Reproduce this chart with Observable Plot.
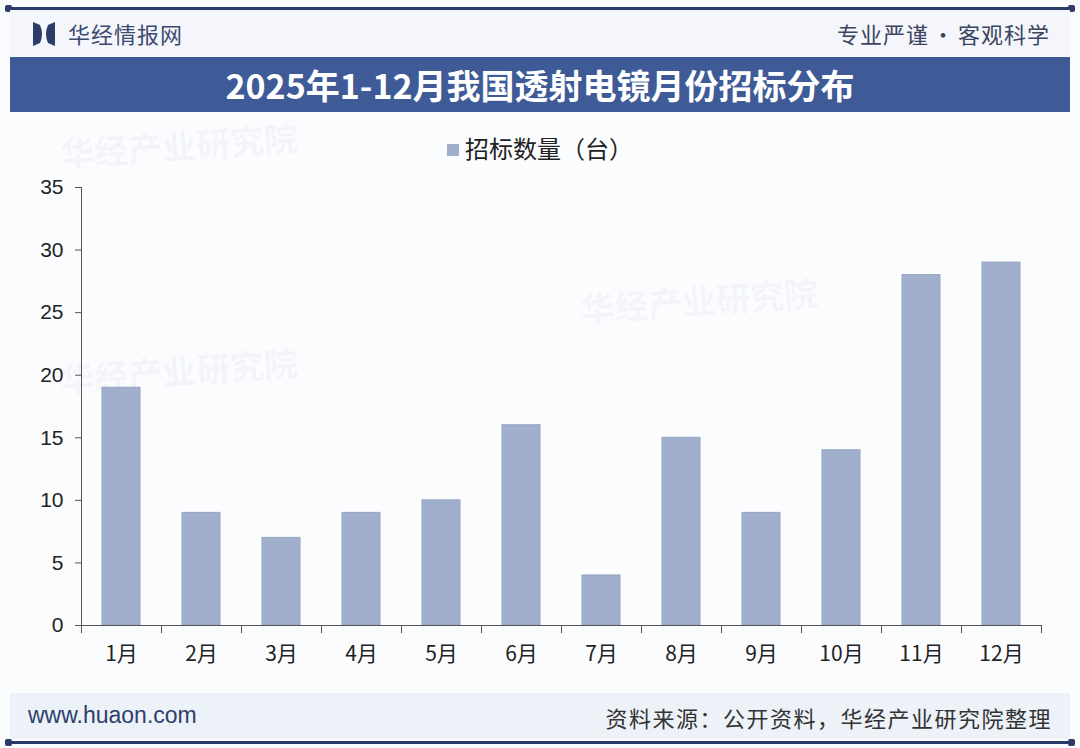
<!DOCTYPE html>
<html><head><meta charset="utf-8">
<script src="https://cdn.jsdelivr.net/npm/d3@7"></script>
<script src="https://cdn.jsdelivr.net/npm/@observablehq/plot@0.6"></script>
<style>
html,body{margin:0;padding:0;}
body{width:1080px;height:748px;position:relative;background:#fbfcfe;font-family:"Noto Sans CJK SC","Noto Sans",sans-serif;overflow:hidden;}
.line{position:absolute;left:8px;right:8px;height:3px;background:#2c3c68;}
.line:before,.line:after{content:"";position:absolute;top:-2px;width:7px;height:7px;border-radius:2px;background:#2c3c68;}
.line:before{left:-3px}.line:after{right:-3px}
#hdr{position:absolute;left:10px;right:10px;top:10px;height:47px;background:#f4f6fb;}
#brand{position:absolute;left:68px;top:17px;font-size:22px;color:#3b4a70;letter-spacing:1px;}
#motto{position:absolute;right:30px;top:17px;font-size:22px;color:#3b4460;letter-spacing:1px;}
#logo{position:absolute;left:33px;top:22px;}
#title{position:absolute;left:10px;right:10px;top:57px;height:55px;background:#3e5b98;color:#fff;text-align:center;font-weight:bold;font-size:34px;line-height:55px;font-family:"Noto Sans CJK SC",sans-serif;}
#legend{position:absolute;left:0;width:1080px;top:130px;text-align:center;font-size:24px;color:#222;}
#legend span.sw{display:inline-block;width:12px;height:12px;background:#9fafcb;margin-right:6px;vertical-align:2px;}
#chart{position:absolute;left:0;top:170px;}
#ftr{position:absolute;left:10px;right:10px;top:693px;height:46px;background:#edf1f8;}
#site{position:absolute;left:28px;top:702px;font-size:23px;color:#2d3f6b;font-family:"Liberation Sans",Arial,sans-serif;}
#src{position:absolute;right:28px;top:701px;font-size:22px;color:#333;letter-spacing:1.5px;}
.wm{position:absolute;color:rgba(160,175,205,0.09);font-size:34px;font-weight:bold;transform:rotate(-4deg);}
</style></head>
<body>
<div class="line" style="top:7px"></div>
<div id="hdr"></div>
<svg id="logo" width="22" height="24" viewBox="0 0 22 24"><path d="M0 0 L7 3 L7 21 L0 24 Z" fill="#2c3c68"/><path d="M22 0 L15 3 L15 21 L22 24 Z" fill="#2c3c68"/><path d="M7 3 Q11 12 7 21 Z" fill="#2c3c68"/><path d="M15 3 Q11 12 15 21 Z" fill="#2c3c68"/></svg>
<div id="brand">华经情报网</div>
<div id="motto">专业严谨<span style="margin:0 3px">•</span>客观科学</div>
<div id="title">2025年1-12月我国透射电镜月份招标分布</div>
<div class="wm" style="left:60px;top:120px">华经产业研究院</div>
<div class="wm" style="left:580px;top:275px">华经产业研究院</div>
<div class="wm" style="left:60px;top:345px">华经产业研究院</div>
<div id="legend"><span class="sw"></span>招标数量（台）</div>
<div id="chart"></div>
<div id="ftr"></div>
<div id="site">www.huaon.com</div>
<div id="src">资料来源：公开资料，华经产业研究院整理</div>
<div class="line" style="top:741px"></div>
<script>
const months = ["1月","2月","3月","4月","5月","6月","7月","8月","9月","10月","11月","12月"];
const counts = [19, 9, 7, 9, 10, 16, 4, 15, 9, 14, 28, 29];
const yTicks = [0, 5, 10, 15, 20, 25, 30, 35];
const data = months.map((m, i) => ({month: m, value: counts[i]}));

const W = 1080, H = 510;
const mL = 81, mR = 39, mT = 17, mB = 55;
const band = (W - mL - mR) / months.length;

const chart = Plot.plot({
  width: W, height: H,
  marginLeft: mL, marginRight: mR, marginTop: mT, marginBottom: mB,
  style: {background: "transparent", fontFamily: "'Liberation Sans', Arial, sans-serif", fontSize: "20px", color: "#222"},
  x: {domain: months, paddingInner: 0.525, paddingOuter: 0.2625, label: null},
  y: {domain: [0, 35], label: null},
  marks: [
    Plot.barY(data, {x: "month", y: "value", fill: "#a0b0cc", stroke: "#93a4c2", strokeWidth: 1}),
    Plot.axisY({ticks: yTicks, tickSize: 6, tickPadding: 12, stroke: "#555", fontSize: 21, fill: "#222"}),
    Plot.frame({anchor: "left", stroke: "#555"}),
    Plot.ruleY([0], {stroke: "#555"}),
    Plot.axisX({tickSize: 8, dx: -band / 2, text: null, stroke: "#555"}),
    Plot.axisX({ticks: [months[months.length - 1]], tickSize: 8, dx: band / 2, text: null, stroke: "#555"}),
    Plot.axisX({tickSize: 0, tickPadding: 21, fontSize: 21, fill: "#222", fontFamily: "'Noto Sans CJK SC', sans-serif"})
  ]
});
document.getElementById("chart").appendChild(chart);
</script>
</body></html>
